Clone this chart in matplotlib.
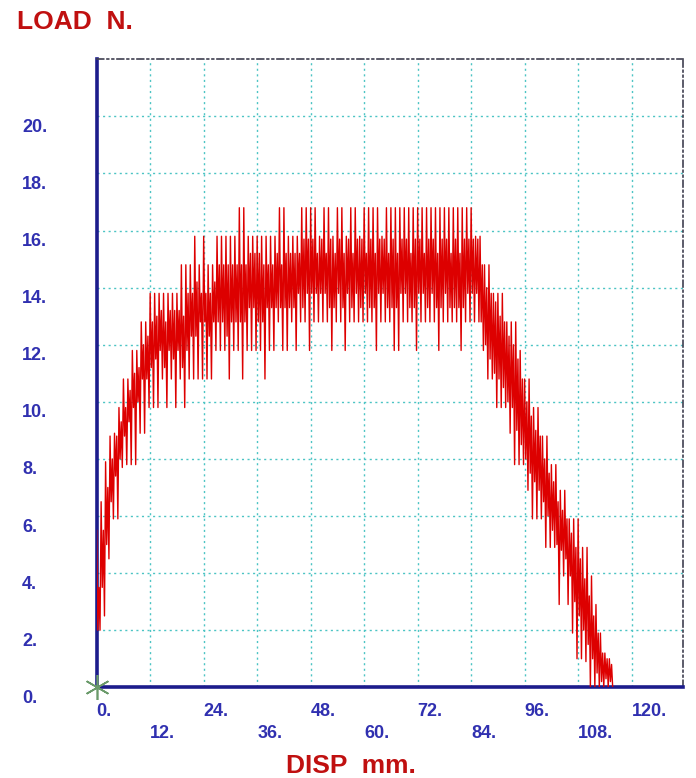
import numpy as np
import matplotlib
matplotlib.use("Agg")
import matplotlib.pyplot as plt
from matplotlib.transforms import offset_copy, blended_transform_factory

plt.rcParams['font.family'] = ['Liberation Sans', 'DejaVu Sans']

# load trace, one entry per mm of displacement (0..115 mm)
disp_mm = np.arange(116)
core_lo = [2.0, 3.5, 5.0, 6.5, 7.4, 8.0, 8.8, 9.3, 9.8, 10.0,
           10.8, 10.8, 11.2, 11.5, 11.8, 11.2, 11.8, 11.5, 11.8, 11.2,
           11.8, 12.3, 12.3, 12.8, 12.8, 12.3, 12.8, 12.8, 12.8, 12.3,
           12.8, 12.8, 12.8, 12.8, 13.3, 13.3, 12.8, 12.8, 13.3, 13.3,
           13.3, 13.3, 13.3, 13.3, 13.3, 13.8, 13.3, 13.8, 13.8, 13.8,
           13.8, 13.8, 13.3, 13.3, 13.8, 13.3, 13.8, 13.3, 13.8, 13.3,
           13.8, 13.3, 13.3, 13.8, 13.8, 13.3, 13.3, 13.3, 13.8, 13.8,
           13.3, 13.3, 13.8, 13.8, 13.3, 13.8, 13.3, 13.3, 13.8, 13.3,
           13.3, 13.3, 13.3, 13.8, 13.8, 13.8, 12.8, 12.0, 11.5, 11.0,
           10.8, 10.5, 10.0, 9.8, 9.0, 8.5, 8.0, 7.5, 7.2, 6.9,
           6.5, 6.0, 5.5, 5.0, 4.8, 4.5, 3.9, 3.0, 2.5, 2.0,
           1.5, 1.0, 0.5, 0.2, 0.3, 0.2]
core_hi = [3.5, 5.5, 7.0, 8.0, 8.8, 9.3, 9.8, 10.4, 11.0, 11.2,
           12.0, 12.3, 12.8, 13.0, 13.2, 12.8, 13.2, 13.2, 13.2, 13.0,
           13.8, 13.8, 14.2, 13.8, 13.8, 13.8, 14.2, 14.8, 14.8, 14.8,
           14.8, 14.8, 14.8, 14.8, 15.2, 15.2, 15.2, 14.8, 14.8, 14.8,
           15.2, 14.8, 15.2, 15.2, 15.2, 15.2, 15.7, 15.7, 15.7, 15.2,
           15.7, 15.2, 15.7, 15.2, 15.7, 15.2, 15.7, 15.2, 15.7, 15.7,
           15.2, 15.7, 15.2, 15.7, 15.7, 15.2, 15.7, 15.2, 15.7, 15.7,
           15.2, 15.7, 15.7, 15.2, 15.7, 15.7, 15.2, 15.7, 15.7, 15.2,
           15.7, 15.2, 15.7, 15.7, 15.7, 15.7, 14.8, 14.0, 13.8, 13.5,
           13.0, 12.8, 12.3, 12.0, 11.5, 10.8, 10.0, 9.5, 9.0, 8.8,
           8.0, 7.5, 7.2, 6.5, 6.2, 5.9, 5.4, 4.9, 4.5, 3.8,
           3.2, 2.5, 1.9, 1.2, 1.0, 0.8]
spike_lo = [2.0, 2.5, 4.5, 5.9, 5.9, 7.7, 7.8, 7.8, 7.8, 8.9,
            8.9, 9.8, 9.8, 9.8, 10.8, 9.8, 10.8, 9.8, 10.8, 9.8,
            10.8, 10.8, 10.8, 10.8, 10.8, 10.8, 11.8, 11.8, 11.8, 10.8,
            11.8, 11.8, 10.8, 11.8, 11.8, 11.8, 11.8, 10.8, 11.8, 11.8,
            12.8, 11.8, 11.8, 12.8, 11.8, 12.8, 12.8, 11.8, 12.8, 12.8,
            12.8, 12.8, 11.8, 12.8, 12.8, 11.8, 12.8, 12.8, 12.8, 12.8,
            12.8, 12.8, 11.8, 12.8, 12.8, 12.8, 11.8, 11.8, 12.8, 12.8,
            12.8, 11.8, 12.8, 12.8, 12.8, 12.8, 11.8, 12.8, 12.8, 12.8,
            12.8, 11.8, 12.8, 12.8, 12.8, 12.8, 11.8, 10.8, 10.8, 9.8,
            9.8, 9.8, 8.9, 7.8, 7.8, 7.8, 6.9, 5.9, 5.9, 5.9,
            4.9, 4.9, 4.9, 2.9, 3.9, 2.9, 1.9, 1.0, 1.0, 0.9,
            0.0, 0.0, 0.0, 0.0, 0.0, 0.0]
spike_hi = [5.5, 6.5, 7.9, 8.8, 8.9, 9.8, 10.8, 10.8, 11.8, 11.8,
            12.8, 12.8, 13.8, 13.8, 13.8, 13.8, 13.8, 13.8, 13.8, 14.8,
            14.8, 14.8, 15.8, 14.8, 15.8, 14.8, 14.8, 15.8, 15.8, 15.8,
            15.8, 15.8, 16.8, 16.8, 15.8, 15.8, 15.8, 15.8, 15.8, 15.8,
            15.8, 16.8, 16.8, 15.8, 15.8, 15.8, 16.8, 16.8, 16.8, 16.8,
            15.8, 16.8, 16.8, 15.8, 16.8, 16.8, 15.8, 16.8, 16.8, 15.8,
            16.8, 16.8, 16.8, 16.8, 15.8, 16.8, 16.8, 16.8, 16.8, 16.8,
            16.8, 16.8, 16.8, 16.8, 16.8, 16.8, 16.8, 16.8, 16.8, 16.8,
            16.8, 16.8, 16.8, 16.8, 16.8, 15.8, 15.8, 14.8, 14.8, 13.8,
            13.8, 13.8, 12.8, 12.8, 12.8, 11.8, 10.8, 10.8, 9.8, 9.8,
            8.8, 8.8, 7.8, 7.8, 6.9, 6.9, 5.9, 5.9, 5.9, 4.9,
            4.9, 3.9, 2.9, 1.9, 1.2, 1.0]

x_ticks = [0, 12, 24, 36, 48, 60, 72, 84, 96, 108, 120]
y_ticks = [0, 2, 4, 6, 8, 10, 12, 14, 16, 18, 20]

# four samples per mm: jump up, drop to core, core top, drop down
xs = (disp_mm[:, None] + np.array([0.0, 0.25, 0.5, 0.75])[None, :]).ravel()
ys = np.column_stack([spike_hi, core_lo, core_hi, spike_lo]).ravel()

fig = plt.figure(figsize=(6.96, 7.78), dpi=100)
ax = fig.add_axes([0.1389, 0.1166, 0.8429, 0.8072])
ax.set_xlim(0, 131.6)
ax.set_ylim(0, 22)

ax.set_xticks(x_ticks[1:])
ax.set_yticks(y_ticks[1:])
ax.tick_params(length=0, labelbottom=False, labelleft=False)
ax.grid(True, color="#4cc4c4", linestyle=(0, (1.5, 2.5)), linewidth=1.0)

for s in ("left", "bottom"):
    ax.spines[s].set_color("#1c1c8c")
    ax.spines[s].set_linewidth(2.6)
for s in ("top", "right"):
    ax.spines[s].set_color("#404050")
    ax.spines[s].set_linewidth(1.2)
    ax.spines[s].set_linestyle((0, (4, 2, 1, 2, 1, 2)))

ax.plot(xs, ys, color="#dd0000", linewidth=1.0, zorder=3)
ax.plot([0], [0], marker=(6, 2, 0), markersize=18, color="#6a9a6a",
        markeredgewidth=1.2, clip_on=False, zorder=5)

blue = "#3030b0"
for i, v in enumerate(x_ticks):
    dy = -24 if i % 2 == 0 else -46
    tr = offset_copy(ax.get_xaxis_transform(), fig=fig, x=0, y=dy, units="dots")
    ax.text(v, 0, f"{v}.", transform=tr, ha="left", va="center",
            color=blue, fontsize=13, fontweight="bold")

ytr = offset_copy(blended_transform_factory(fig.transFigure, ax.transData),
                  fig=fig, x=0, y=-11, units="dots")
for v in y_ticks:
    ax.text(0.0316, v, f"{v}.", transform=ytr, ha="left", va="center",
            color=blue, fontsize=13, fontweight="bold")

fig.text(0.024, 0.9627, "LOAD  N.", color="#c01010", fontsize=19,
         fontweight="bold", ha="left", va="baseline")
fig.text(0.504, 0.006, "DISP  mm.", color="#c01010", fontsize=19,
         fontweight="bold", ha="center", va="baseline")

fig.savefig("out.png", dpi=100)
